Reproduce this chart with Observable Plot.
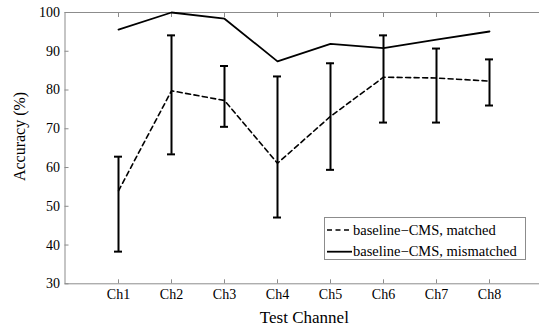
<!DOCTYPE html>
<html><head><meta charset="utf-8">
<script src="https://cdn.jsdelivr.net/npm/d3@7"></script>
<script src="https://cdn.jsdelivr.net/npm/@observablehq/plot@0.6"></script>
<style>
html,body{margin:0;padding:0;background:#fff;}
#wrap{position:relative;width:539px;height:326px;overflow:hidden;font-family:"Liberation Serif","Times New Roman",serif;}
#legend{position:absolute;left:324px;top:217px;}
</style>
</head><body>
<div id="wrap"><div id="chart"></div>
<svg id="legend" width="202" height="43">
  <rect x="0.5" y="0.5" width="201" height="42" fill="#fff" stroke="#8c8c8c"/>
  <line x1="3" x2="28" y1="13" y2="13" stroke="#000" stroke-width="1.6" stroke-dasharray="5,3.5"/>
  <text x="29" y="17.5" font-family="Liberation Serif" font-size="14.5">baseline−CMS, matched</text>
  <line x1="3" x2="28" y1="34.7" y2="34.7" stroke="#000" stroke-width="1.8"/>
  <text x="29" y="38.7" font-family="Liberation Serif" font-size="14.5">baseline−CMS, mismatched</text>
</svg>
</div>
<script>
const channels = ["Ch1","Ch2","Ch3","Ch4","Ch5","Ch6","Ch7","Ch8"];
const matched = [54.0, 79.8, 77.3, 61.1, 73.2, 83.3, 83.1, 82.3];
const mismatched = [95.6, 100, 98.4, 87.4, 91.9, 90.8, 93.0, 95.1];
const errLow = [38.3, 63.4, 70.5, 47.1, 59.4, 71.6, 71.6, 76.0];
const errHigh = [62.8, 94.1, 86.2, 83.5, 86.9, 94.1, 90.7, 87.9];
const yTicks = [30, 40, 50, 60, 70, 80, 90, 100];

const rows = channels.map((ch, i) => ({ch, m: matched[i], mm: mismatched[i], lo: errLow[i], hi: errHigh[i]}));
const grey = "#8c8c8c";

const chart = Plot.plot({
  width: 547, height: 326,
  marginLeft: 64.5, marginRight: 3.8, marginTop: 12, marginBottom: 42.7,
  style: {fontFamily: "Liberation Serif", fontSize: "14px", background: "white", maxWidth: "none", color: "black"},
  x: {type: "point", domain: channels, padding: 1, axis: null},
  y: {domain: [30, 100], axis: null},
  marks: [
    Plot.frame({stroke: grey}),
    Plot.axisX({anchor: "bottom", tickSize: -4, tickPadding: 9, stroke: grey, fill: "black", fontSize: 14, label: null}),
    Plot.axisX({anchor: "top", tickSize: -4, tickFormat: () => "", stroke: grey, label: null}),
    Plot.axisY({anchor: "left", ticks: yTicks, tickSize: -4, tickPadding: 9, stroke: grey, fill: "black", fontSize: 14, label: null}),
    Plot.axisY({anchor: "right", ticks: yTicks, tickSize: -4, tickFormat: () => "", stroke: grey, label: null}),
    Plot.line(rows, {x: "ch", y: "mm", stroke: "black", strokeWidth: 1.8}),
    Plot.line(rows, {x: "ch", y: "m", stroke: "black", strokeWidth: 1.6, strokeDasharray: "5,3.5"}),
    Plot.ruleX(rows, {x: "ch", y1: "lo", y2: "hi", stroke: "black", strokeWidth: 2}),
    Plot.ruleY(rows, {y: "lo", x1: "ch", x2: "ch", insetLeft: -4, insetRight: -4, stroke: "black", strokeWidth: 2}),
    Plot.ruleY(rows, {y: "hi", x1: "ch", x2: "ch", insetLeft: -4, insetRight: -4, stroke: "black", strokeWidth: 2}),
    Plot.text(["Test Channel"], {text: d => d, frameAnchor: "bottom", lineAnchor: "bottom", dy: 39, fontSize: 17, fill: "black"}),
    Plot.text(["Accuracy (%)"], {text: d => d, frameAnchor: "left", textAnchor: "middle", lineAnchor: "middle", rotate: -90, dx: -45.5, dy: -11.7, fontSize: 16, fill: "black"})
  ]
});
document.getElementById("chart").appendChild(chart);
</script>
</body></html>
